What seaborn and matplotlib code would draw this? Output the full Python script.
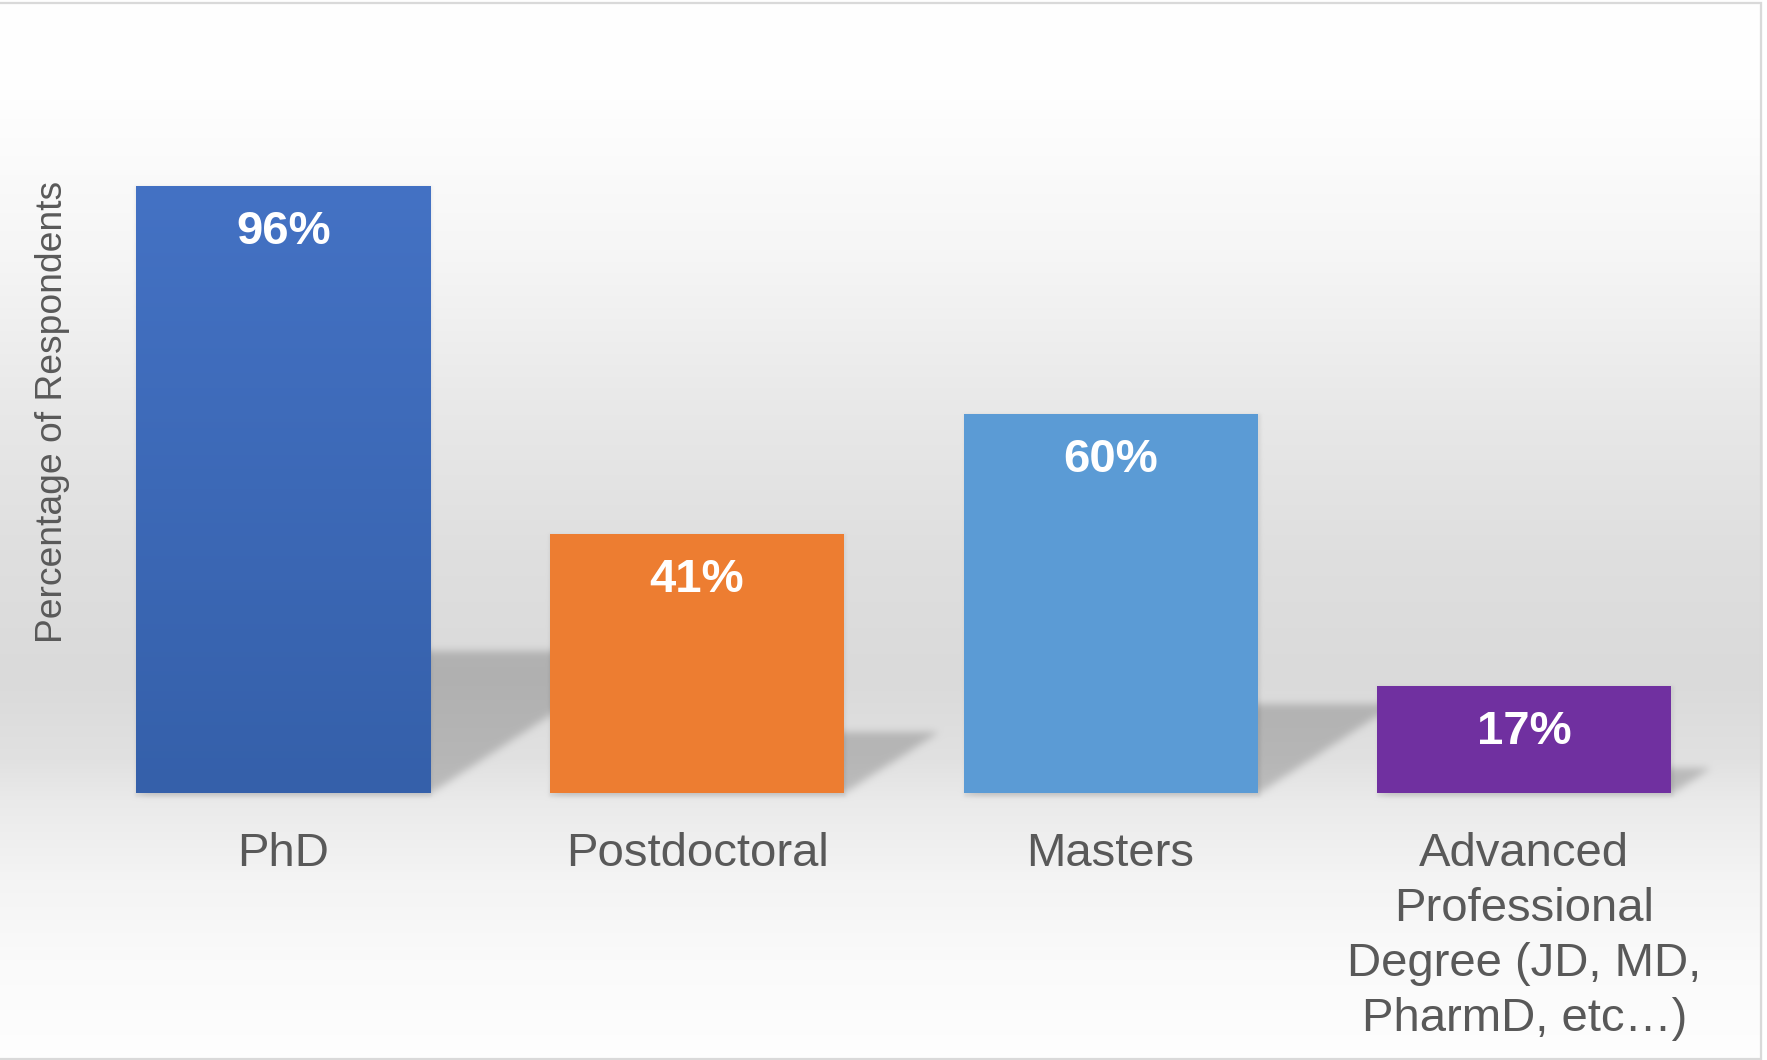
import numpy as np
import pandas as pd
import matplotlib
matplotlib.use("Agg")
import matplotlib.pyplot as plt
from matplotlib.path import Path
from matplotlib.patches import Rectangle
import seaborn as sns

# ---- data -------------------------------------------------------------
categories = [
    "PhD",
    "Postdoctoral",
    "Masters",
    "Advanced\nProfessional\nDegree (JD, MD,\nPharmD, etc\u2026)",
]
values = [96, 41, 60, 17]
bar_colors = ["#4472C4", "#ED7D31", "#5B9BD5", "#7030A0"]
value_labels = [f"{v}%" for v in values]
y_label = "Percentage of Respondents"

# ---- canvas -----------------------------------------------------------
W, H, DPI = 1767, 1060, 100
BAR_WIDTH = 0.711
TEXT_GREY = "#595959"

sns.set_style("white")
plt.rcParams["font.family"] = ["Liberation Sans", "DejaVu Sans"]

fig = plt.figure(figsize=(W / DPI, H / DPI), dpi=DPI)
fig.patch.set_facecolor("white")

bg_ax = fig.add_axes([0, 0, 1, 1], zorder=0)
bg_ax.set_axis_off()

ax = fig.add_axes([76.6 / W, 266.6 / H, 1654.4 / W, 632.8 / H], zorder=1)
ax.patch.set_alpha(0)

df = pd.DataFrame({"degree": categories, "pct": values})
sns.barplot(
    data=df, x="degree", y="pct", hue="degree", palette=bar_colors,
    saturation=1, width=BAR_WIDTH, legend=False, linewidth=0, ax=ax,
    zorder=3,
)
ax.set_xlim(-0.5, 3.5)
ax.set_ylim(0, 100)

# PhD bar gets a soft top-to-bottom shading
for p in ax.patches:
    if abs(p.get_x() + p.get_width() / 2) < 0.01:
        top = np.array(matplotlib.colors.to_rgb("#4472C4"))
        bot = np.array(matplotlib.colors.to_rgb("#3560AA"))
        t = np.linspace(0, 1, 256)[:, None, None]
        grad = top * (1 - t) + bot * t
        im = ax.imshow(
            grad, extent=(p.get_x(), p.get_x() + p.get_width(), 0, p.get_height()),
            origin="upper", aspect="auto", interpolation="bilinear",
            zorder=p.get_zorder() + 0.1,
        )
        im.set_clip_path(p)
ax.set_xlim(-0.5, 3.5)
ax.set_ylim(0, 100)

# value labels inside the bar tops
for i, (v, lab) in enumerate(zip(values, value_labels)):
    ax.annotate(
        lab, xy=(i, v), xytext=(0, -33.5), textcoords="offset points",
        ha="center", va="center", color="white", fontsize=34,
        fontweight="bold", zorder=6,
    )

sns.despine(ax=ax, left=True, bottom=True)
ax.set_yticks([])
ax.set_xlabel("")
ax.set_xticks(range(len(categories)))
ax.set_xticklabels(categories, linespacing=1.32)
ax.tick_params(axis="x", length=0, pad=28, labelsize=34, labelcolor=TEXT_GREY)

ax.set_ylabel(y_label, fontsize=26.8, color=TEXT_GREY)
ax.yaxis.set_label_coords((52 - 76.6) / 1654.4, (793.4 - 412) / 632.8)
ax.yaxis.label.set_va("center")

# ---- background: vertical grey band with cast shadows -----------------
rows = np.arange(H) + 0.5
stop_y = [0, 100, 250, 400, 550, 680, 760, 800, 880, 960, 1060]
stop_v = [255, 254, 246, 233, 223, 218, 225, 234, 244, 250, 254]
shade = np.interp(rows, stop_y, stop_v) / 255.0
bg = np.repeat(shade[:, None], W, axis=1)
bg[:, 1762:] = 1.0


def gaussian_blur(a, sigma):
    r = int(3 * sigma)
    k = np.exp(-0.5 * (np.arange(-r, r + 1) / sigma) ** 2)
    k /= k.sum()
    a = np.apply_along_axis(lambda s: np.convolve(s, k, mode="same"), 1, a)
    a = np.apply_along_axis(lambda s: np.convolve(s, k, mode="same"), 0, a)
    return a


def poly_mask(verts):
    verts = np.asarray(verts)
    x0, y0 = np.floor(verts.min(axis=0)).astype(int)
    x1, y1 = np.ceil(verts.max(axis=0)).astype(int)
    x0, x1 = max(x0, 0), min(x1, W)
    y0, y1 = max(y0, 0), min(y1, H)
    m = np.zeros((H, W))
    xs = np.arange(x0, x1) + 0.5
    ys = np.arange(y0, y1) + 0.5
    gx, gy = np.meshgrid(xs, ys)
    inside = Path(verts).contains_points(np.column_stack([gx.ravel(), gy.ravel()]))
    sub = inside.reshape(gy.shape).astype(float)
    # display y runs upward; image rows run downward
    m[H - y1:H - y0, x0:x1] = sub[::-1]
    return m


cast = np.zeros((H, W))
contact = np.zeros((H, W))
for i, v in enumerate(values):
    xl, yb = ax.transData.transform((i - BAR_WIDTH / 2, 0))
    xr, yt = ax.transData.transform((i + BAR_WIDTH / 2, v))
    hs = 0.235 * (yt - yb)
    dx = 1.53 * hs
    cast = np.maximum(cast, poly_mask(
        [(xl, yb), (xr, yb), (xr + dx, yb + hs), (xl + dx, yb + hs)]))
    contact = np.maximum(contact, poly_mask(
        [(xl - 1, yb - 4), (xr + 2, yb - 4), (xr + 2, yt), (xl - 1, yt)]))

cast = gaussian_blur(cast, 4.0)
contact = gaussian_blur(contact, 1.5)
dark = np.clip(0.19 * cast + 0.06 * contact, 0, 1)
bg = bg * (1 - dark)
bg_rgb = np.dstack([bg, bg, bg])

bg_ax.imshow(bg_rgb, extent=(0, W, 0, H), origin="upper", aspect="auto",
             interpolation="nearest")
bg_ax.set_xlim(0, W)
bg_ax.set_ylim(0, H)

# thin frame along the top, right and bottom of the chart area
fig.add_artist(Rectangle(
    (-4 / W, 1.5 / H), 1765 / W, (H - 4.5) / H, transform=fig.transFigure,
    fill=False, edgecolor="#d9d9d9", linewidth=1.6, zorder=10, clip_on=False,
))

fig.savefig("out.png", dpi=DPI)
